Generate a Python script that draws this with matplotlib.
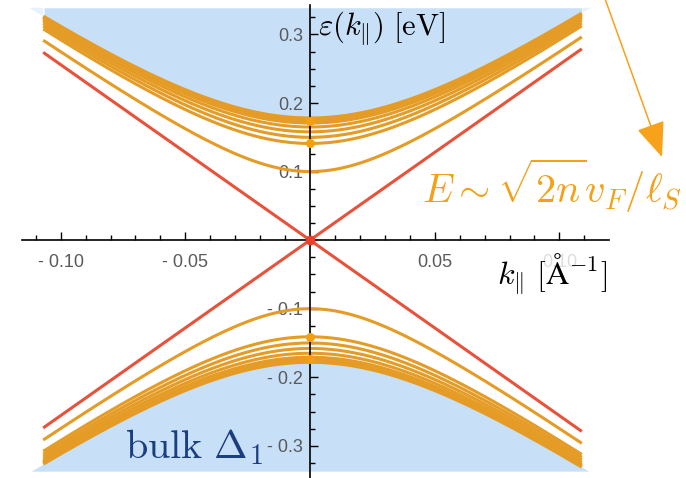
import numpy as np
import matplotlib
matplotlib.use("Agg")
import matplotlib.pyplot as plt
from matplotlib.ticker import MultipleLocator, FixedLocator, FuncFormatter

plt.rcParams["mathtext.fontset"] = "cm"

# band parameters (eV, eV*Angstrom, 1/Angstrom)
v_fermi = 2.56
level_gaps = [0.100, 0.141, 0.150, 0.158, 0.165, 0.171, 0.1745, 0.178]
level_widths = [2.2, 2.2, 2.2, 2.2, 2.2, 2.4, 2.4, 2.4]
marked_levels = [0.1414, 0.1732]
bulk_gap = 0.178
k_lines = (-0.107, 0.109)
k_bulk = (-0.1155, 0.1143)
e_window = (-0.337, 0.339)

xticks = [-0.10, -0.05, 0.05, 0.10]
yticks = [-0.3, -0.2, -0.1, 0.1, 0.2, 0.3]

orange = "#e59c26"
red = "#e8523a"
blue = "#c7e0f8"
light_blue = "#e6f1fc"
navy = "#1b3f7e"
label_orange = "#f5a015"

fig = plt.figure(figsize=(6.86, 4.78), dpi=100)
ax = fig.add_axes([22 / 686, 0.0, 587 / 686, 473 / 478])
ax.set_xlim(-0.1155, 0.1199)
ax.set_ylim(-0.347, 0.343)

# bulk continuum shading
kb = np.linspace(k_bulk[0], k_bulk[1], 600)
edge = np.sqrt(bulk_gap**2 + (v_fermi * kb) ** 2)
inside = (kb >= k_lines[0]) & (kb <= k_lines[1])
ax.fill_between(kb, np.minimum(edge, e_window[1]), e_window[1], where=inside,
                color=blue, lw=0, zorder=0.2)
ax.fill_between(kb, np.minimum(edge, e_window[1]), e_window[1], where=~inside,
                color=light_blue, lw=0, zorder=0.2)
ax.fill_between(kb, e_window[0], np.maximum(-edge, e_window[0]),
                color=blue, lw=0, zorder=0.2)

# surface state levels
k = np.linspace(k_lines[0], k_lines[1], 400)
for gap, lw in zip(level_gaps, level_widths):
    e = np.sqrt(gap**2 + (v_fermi * k) ** 2)
    ax.plot(k, e, color=orange, lw=lw, solid_capstyle="butt", zorder=2)
    ax.plot(k, -e, color=orange, lw=lw, solid_capstyle="butt", zorder=2)

# Dirac cone
ax.plot(k, v_fermi * k, color=red, lw=2.2, solid_capstyle="butt", zorder=2.1)
ax.plot(k, -v_fermi * k, color=red, lw=2.2, solid_capstyle="butt", zorder=2.1)

for e0 in marked_levels:
    ax.plot([0, 0], [e0, -e0], "o", color="#f2a012", ms=6.5, mec="none", zorder=3)
ax.plot([0], [0], "o", color="#e8402c", ms=7, mec="none", zorder=3)

# axes through the origin
ax.spines["left"].set_position(("data", 0))
ax.spines["bottom"].set_position(("data", 0))
ax.spines["right"].set_visible(False)
ax.spines["top"].set_visible(False)
for s in ("left", "bottom"):
    ax.spines[s].set_linewidth(1.2)
    ax.spines[s].set_zorder(2.5)
ax.set_axisbelow(True)

ax.xaxis.set_major_locator(FixedLocator(xticks))
ax.yaxis.set_major_locator(FixedLocator(yticks))
ax.xaxis.set_minor_locator(MultipleLocator(0.01))
ax.yaxis.set_minor_locator(MultipleLocator(0.025))
ax.xaxis.set_major_formatter(FuncFormatter(
    lambda v, _: f"- {abs(v):.2f}" if v < 0 else f"{v:.2f}"))
ax.yaxis.set_major_formatter(FuncFormatter(
    lambda v, _: f"- {abs(v):.1f}" if v < 0 else f"{v:.1f}"))
ax.tick_params(which="both", direction="in", color="black", width=1.0,
               labelcolor="#5a5a5a", labelsize=13)
ax.tick_params(which="major", length=6)
ax.tick_params(which="minor", length=3.5)
ax.tick_params(axis="x", pad=10)
ax.tick_params(axis="y", pad=5)
for lab in ax.get_xticklabels() + ax.get_yticklabels():
    lab.set_fontfamily("Liberation Sans")

ax.text(0.505, 0.99, r"$\varepsilon(k_{\|})\ [\mathrm{eV}]$", transform=ax.transAxes,
        fontsize=22, va="top", ha="left", zorder=4)
ax.text(0.809, 0.433, r"$k_{\|}\ [\mathrm{\AA}^{-1}]$", transform=ax.transAxes,
        fontsize=23, va="center", ha="left", zorder=4,
        bbox=dict(facecolor="white", edgecolor="none", alpha=0.8, pad=1))

fig.text(422 / 686, 1 - 186 / 478, r"$E\sim\sqrt{2n}v_F/\ell_S$",
         color=label_orange, fontsize=29, va="center", ha="left")
fig.text(125 / 686, 1 - 458 / 478, r"$\mathrm{bulk}\ \Delta_1$",
         color=navy, fontsize=29, va="baseline", ha="left")

ax.annotate("", xy=(662 / 686, 1 - 157 / 478), xycoords="figure fraction",
            xytext=(604 / 686, 1 + 4 / 478), textcoords="figure fraction",
            arrowprops=dict(arrowstyle="-|>,head_length=1.1,head_width=0.45",
                            mutation_scale=20, color="#f7a21a", lw=1.1,
                            shrinkA=0, shrinkB=0))

fig.savefig("out.png", dpi=100)
